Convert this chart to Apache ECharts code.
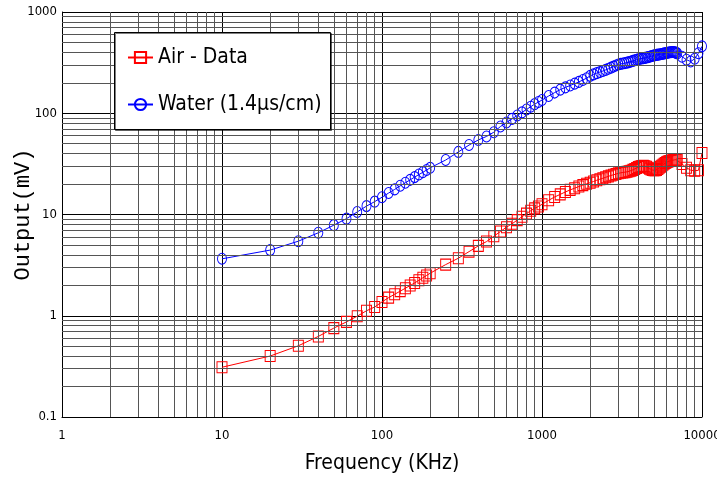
<!DOCTYPE html>
<html><head><meta charset="utf-8">
<script src="https://cdn.jsdelivr.net/npm/echarts@6/dist/echarts.min.js"></script>
<style>html,body{margin:0;padding:0;background:#fff}#c{width:717px;height:481px}</style>
</head><body><div id="c"></div>
<script>
// Frequencies (kHz)
const freqs = [
  10,20,30,40,50,60,70,80,90,100,
  110,120,130,140,150,160,170,180,190,200,
  250,300,350,400,450,500,550,600,650,700,750,800,850,900,950,1000,
  1100,1200,1300,1400,1500,1600,1700,1800,1900,2000,
  2100,2200,2300,2400,2500,2600,2700,2800,2900,3000,
  3100,3200,3300,3400,3500,3600,3700,3800,3900,4000,
  4100,4200,4300,4400,4500,4600,4700,4800,4900,5000,
  5100,5200,5300,5400,5500,5600,5700,5800,5900,6000,
  6100,6200,6300,6400,6500,6600,6700,6800,6900,7000,
  7500,8000,8500,9000,9500,10000
];
// Output (mV) - Air
const airData = [
  0.31,0.40,0.505,0.625,0.755,0.87,0.99,1.12,1.22,1.37,
  1.51,1.63,1.75,1.87,1.99,2.11,2.24,2.37,2.50,2.63,
  3.2,3.7,4.3,4.9,5.4,6.1,6.8,7.5,8.1,8.8,9.5,10.2,10.9,11.5,12.0,12.6,
  13.8,14.9,15.8,16.7,17.5,18.2,18.9,19.5,20.1,20.6,
  21.2,21.8,22.3,22.8,23.3,23.8,24.3,24.7,25.1,25.5,
  25.8,26.0,26.2,26.4,26.7,27.1,27.6,28.2,28.8,29.4,
  29.8,30.1,30.2,30.0,29.6,29.0,28.4,27.9,27.5,27.3,
  27.3,27.6,28.2,28.9,29.6,30.3,31.0,31.7,32.3,32.8,
  33.2,33.5,33.8,34.0,34.2,34.4,34.6,34.7,34.8,34.8,
  31.5,29.0,27.4,27.1,27.3,40.5
];
// Output (mV) - Water (1.4 uS/cm)
const waterData = [
  3.65,4.45,5.45,6.6,7.85,9.1,10.6,12.1,13.4,14.8,
  16.3,17.7,19.2,20.6,22.0,23.4,24.8,26.1,27.5,28.9,
  34.5,41.5,48.5,54.5,59,65,74,81,88,95,102,109,116,123,129,135,
  148,160,171,180,188,196,204,213,222,234,
  242,249,255,261,268,275,282,289,296,303,
  307,310,313,316,320,324,329,334,338,342,
  345,347,349,352,355,358,362,366,369,372,
  375,377,379,381,383,385,387,390,392,394,
  396,398,400,401,402,402,401,399,396,390,
  362,338,324,345,392,458
];
const seriesNames = ['Air - Data', 'Water (1.4\u03bcs/cm)'];
const xTickLabels = ['1','10','100','1000','10000'];
const yTickLabels = ['0.1','1','10','100','1000'];
const xTitle = 'Frequency (KHz)';
const yTitle = 'Output(mV)';

const NARROW = "'Liberation Sans Narrow','DejaVu Sans Condensed','Liberation Sans',sans-serif";

// minor grid positions (2..9 per decade)
const minorX = [], minorY = [];
for (let e = 0; e < 4; e++) for (let m = 2; m <= 9; m++) minorX.push(+(m * Math.pow(10, e)).toPrecision(3));
for (let e = -1; e < 3; e++) for (let m = 2; m <= 9; m++) minorY.push(+(m * Math.pow(10, e)).toPrecision(3));

const chart = echarts.init(document.getElementById('c'), null, {renderer: 'canvas'});
chart.setOption({
  animation: false,
  backgroundColor: '#fff',
  grid: {left: 62, right: 15, top: 12, bottom: 64, containLabel: false, outerBoundsMode: 'none'},
  xAxis: {
    type: 'log', logBase: 10, min: 1, max: 10000,
    name: xTitle, nameLocation: 'middle', nameGap: 36,
    nameTextStyle: {fontSize: 21, fontFamily: NARROW, color: '#000'},
    axisLine: {show: true, lineStyle: {color: '#000', width: 1}},
    axisTick: {show: false},
    axisLabel: {fontSize: 13, fontFamily: NARROW, color: '#000', margin: 12,
      formatter: v => xTickLabels[Math.round(Math.log10(v))]},
    splitLine: {show: true, lineStyle: {color: '#000', width: 1}}
  },
  yAxis: {
    type: 'log', logBase: 10, min: 0.1, max: 1000,
    name: yTitle, nameLocation: 'middle', nameGap: 28, nameMoveOverlap: false,
    nameTextStyle: {fontSize: 22, fontFamily: "'Liberation Mono','DejaVu Sans Mono',monospace", color: '#000'},
    axisLine: {show: true, lineStyle: {color: '#000', width: 1}},
    axisTick: {show: false},
    axisLabel: {fontSize: 13, fontFamily: NARROW, color: '#000', margin: 5,
      formatter: v => yTickLabels[Math.round(Math.log10(v)) + 1]},
    splitLine: {show: true, lineStyle: {color: '#000', width: 1}}
  },
  legend: {
    data: seriesNames, orient: 'vertical', left: 127, top: 47,
    itemWidth: 25, itemHeight: 14, itemGap: 26, padding: 0,
    textStyle: {fontSize: 21, fontFamily: NARROW, color: '#000'},
    z: 11
  },
  graphic: [{
    type: 'rect', x: 114.5, y: 32.5, shape: {width: 216, height: 97},
    style: {fill: '#fff', stroke: '#000', lineWidth: 1, shadowColor: 'rgba(0,0,0,0.5)', shadowOffsetX: 1, shadowOffsetY: 1},
    z: 10, silent: true
  }],
  series: [
    {
      name: '_grid', type: 'line', data: [], silent: true, z: 1,
      markLine: {
        silent: true, animation: false, symbol: ['none', 'none'],
        label: {show: false},
        lineStyle: {color: '#555', width: 1, type: 'solid'},
        emphasis: {disabled: true},
        data: minorX.map(v => ({xAxis: v})).concat(minorY.map(v => ({yAxis: v})))
      }
    },
    {
      name: seriesNames[0], type: 'line', z: 3, clip: false,
      data: freqs.map((f, i) => [f, airData[i]]),
      symbol: 'rect', symbolSize: [10, 11], showAllSymbol: true,
      itemStyle: {color: 'transparent', borderColor: '#ff0000', borderWidth: 1},
      lineStyle: {color: '#ff0000', width: 1}
    },
    {
      name: seriesNames[1], type: 'line', z: 3, clip: false,
      data: freqs.map((f, i) => [f, waterData[i]]),
      symbol: 'circle', symbolSize: [9, 11], showAllSymbol: true,
      itemStyle: {color: 'transparent', borderColor: '#0000ff', borderWidth: 1},
      lineStyle: {color: '#0000ff', width: 1}
    }
  ]
});
</script>
</body></html>
